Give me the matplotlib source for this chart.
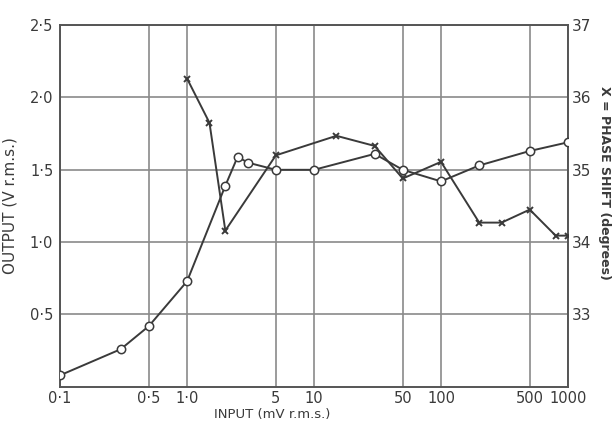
import matplotlib
matplotlib.use("Agg")
import matplotlib.pyplot as plt
from matplotlib.ticker import FixedLocator, FixedFormatter, NullLocator

# output curve (open circles), left axis
out_in = [0.1, 0.3, 0.5, 1.0, 2.0, 2.5, 3.0, 5.0, 10, 30, 50, 100, 200, 500, 1000]
out_v = [0.08, 0.26, 0.42, 0.73, 1.39, 1.59, 1.55, 1.50, 1.50, 1.61, 1.50, 1.42, 1.53, 1.63, 1.69]

# phase shift curve (crosses), right axis
ph_in = [1.0, 1.5, 2.0, 5.0, 15, 30, 50, 100, 200, 300, 500, 800, 1000]
ph_deg = [36.26, 35.65, 34.16, 35.20, 35.47, 35.33, 34.88, 35.11, 34.27, 34.27, 34.45, 34.09, 34.09]

x_ticks = [0.1, 0.5, 1.0, 5, 10, 50, 100, 500, 1000]
x_labels = ["0·1", "0·5", "1·0", "5", "10", "50", "100", "500", "1000"]
y_ticks = [0.5, 1.0, 1.5, 2.0, 2.5]
y_labels = ["0·5", "1·0", "1·5", "2·0", "2·5"]
r_ticks = [33, 34, 35, 36, 37]

ink = "#3a3a3a"
grid = "#8a8a8a"

plt.rcParams["font.family"] = ["DejaVu Sans"]

fig = plt.figure(figsize=(6.14, 4.26), dpi=100)
ax = fig.add_axes([0.098, 0.092, 0.827, 0.849])
ax.set_xscale("log")
ax.set_xlim(0.1, 1000)
ax.set_ylim(0, 2.5)

ax.xaxis.set_major_locator(FixedLocator(x_ticks))
ax.xaxis.set_major_formatter(FixedFormatter(x_labels))
ax.xaxis.set_minor_locator(NullLocator())
ax.yaxis.set_major_locator(FixedLocator(y_ticks))
ax.yaxis.set_major_formatter(FixedFormatter(y_labels))
ax.grid(True, color=grid, lw=1.2)
ax.set_axisbelow(True)
ax.tick_params(length=0, labelsize=10.5, colors=ink, pad=5)
ax.tick_params(axis="x", pad=3)
for s in ax.spines.values():
    s.set_color("#555555")
    s.set_linewidth(1.4)

ax.plot(out_in, out_v, color=ink, lw=1.4, marker="o", ms=6,
        mfc="white", mec=ink, mew=1.1, zorder=3)

ax2 = ax.twinx()
ax2.set_ylim(32, 37)
ax2.yaxis.set_major_locator(FixedLocator(r_ticks))
ax2.tick_params(length=0, labelsize=11, colors=ink, pad=3)
ax2.plot(ph_in, ph_deg, color=ink, lw=1.4, marker="x", ms=5, mew=1.4, zorder=3)
for s in ax2.spines.values():
    s.set_visible(False)

ax.set_xlabel("INPUT (mV r.m.s.)", fontsize=9.5, color=ink, va="top")
ax.xaxis.set_label_coords(0.417, -0.058)
ax.set_ylabel("OUTPUT (V r.m.s.)", fontsize=11, color=ink)
ax.yaxis.set_label_coords(-0.085, 0.5)
ax2.set_ylabel("X = PHASE SHIFT (degrees)", fontsize=9, color=ink,
               rotation=270, fontweight="bold", va="center")
ax2.yaxis.set_label_coords(1.072, 0.565)

fig.savefig("out.png", dpi=100, facecolor="white")
